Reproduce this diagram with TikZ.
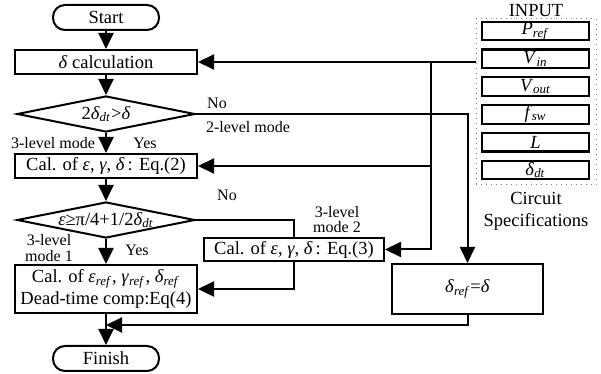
\documentclass[tikz,border=0pt]{standalone}
\usepackage{fontspec}
\setmainfont{Liberation Serif}
\usetikzlibrary{arrows.meta,shapes.geometric}
\newcommand{\mainsize}{\fontsize{9.25}{11}\selectfont}
\newcommand{\lblsize}{\fontsize{8}{7.8}\selectfont}
\newcommand{\iv}[2]{\textit{#1}\textsubscript{\textit{#2}}}

\tikzset{
  box/.style={draw, line width=1pt, inner sep=0.5pt, minimum height=12pt},
  term/.style={box, rounded corners=6pt, minimum width=53pt, minimum height=12.5pt},
  proc/.style={box, minimum width=91pt},
  dec/.style={draw, line width=1pt, diamond, minimum width=89pt, minimum height=18pt, inner sep=0pt},
  spec/.style={draw, line width=1.1pt, minimum width=53.5pt, minimum height=9.3pt, inner sep=0pt},
  lbl/.style={font=\lblsize, align=center, inner sep=0pt},
  arr/.style={-{Triangle[length=8pt,width=7.5pt]}},
}

\begin{document}
\begin{tikzpicture}[x=0.5pt, y=-0.5pt, font=\mainsize, line width=1pt]
\useasboundingbox (0,0) rectangle (601,374);

% main chain
\node[term] (start) at (106,17.5) {Start};
\node[proc] (calc) at (106,62) {\textit{δ} calculation};
\node[dec, label=center:{2\iv{δ}{dt}>\textit{δ}}] (d1) at (106,114) {};
\node[proc] (eq2) at (106,166) {Cal. of \textit{ε}, \textit{γ}, \textit{δ}\,: Eq.(2)};
\node[dec, label=center:{\textit{ε}≥π/4+1/2\iv{δ}{dt}}] (d2) at (106,220) {};
\node[proc, minimum height=24pt, align=center] (comp) at (106,289) {Cal. of \iv{ε}{ref}, \iv{γ}{ref}, \iv{δ}{ref}\\Dead-time comp:Eq(4)};
\node[term] (fin) at (106,358.5) {Finish};

% side branches
\node[box, minimum width=90pt, minimum height=11.5pt] (eq3) at (294,249.5) {Cal. of \textit{ε}, \textit{γ}, \textit{δ}\,: Eq.(3)};
\node[box, minimum width=75.5pt, minimum height=25pt] (dref) at (467.5,289) {\iv{δ}{ref}=\textit{δ}};

% circuit inputs
\node[draw=gray, dotted, line width=0.5pt, minimum width=60pt, minimum height=83pt,
  label={[inner sep=0.5pt]above:INPUT},
  label={[align=center, inner sep=3pt]below:Circuit\\Specifications}] (inp) at (536,102) {};
\foreach \s [count=\i] in {\iv{P}{ref}, \iv{V}{in}, \iv{V}{out}, \iv{f}{sw}, \textit{L}, \iv{δ}{dt}} {
  \node[spec] (in\i) at (535.5,{31+27.8*(\i-1)}) {\s};
}

% connectors
\coordinate (bus) at (431,62);
\coordinate (merge) at (106,325);
\draw[arr] (start) -- (calc);
\draw[arr] (calc) -- (d1);
\draw[arr] (d1) -- (eq2);
\draw[arr] (eq2) -- (d2);
\draw[arr] (d2) -- (comp);
\draw[arr] (comp) -- (fin);
\draw[arr] (d1.east) -| (dref.north);
\draw (d2.east) -| (eq3.north);
\draw[arr] (eq3.south) |- (comp.east);
\draw[arr] (dref.south) |- (merge);
\draw[arr] (calc.east -| inp.west) -- (calc.east);
\draw[arr] (bus) |- (eq3.east);
\draw[arr] (bus |- eq2.east) -- (eq2.east);

% branch labels
\node[lbl] (no1) at (217,103) {No};
\node[lbl] (lvl2) at (248,127) {2-level mode};
\node[lbl] (lvl3) at (53,143) {3-level mode};
\node[lbl] (yes1) at (145,143) {Yes};
\node[lbl] (no2) at (227,195) {No};
\node[lbl] (mode2) at (337,219.5) {3-level\\mode 2};
\node[lbl] (mode1) at (49,248) {3-level\\mode 1};
\node[lbl] (yes2) at (137,250) {Yes};
\end{tikzpicture}
\end{document}
